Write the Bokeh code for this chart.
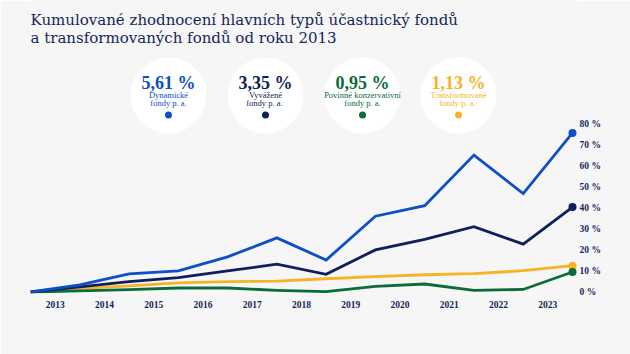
from bokeh.plotting import figure
from bokeh.models import Range1d, FixedTicker, PrintfTickFormatter, LinearAxis
from bokeh.core.properties import value
from bokeh.embed import file_html
from bokeh.resources import INLINE

# ---- data ----
years = ["2013", "2014", "2015", "2016", "2017", "2018", "2019", "2020", "2021", "2022", "2023"]
dynamic = [0, 3.4, 8.6, 10.0, 16.7, 25.7, 15.2, 36.0, 41.0, 65.0, 46.7, 75.5]
balanced = [0, 2.4, 4.9, 6.8, 10.0, 13.2, 8.4, 20.0, 25.0, 31.0, 22.7, 40.3]
transformed = [0, 1.6, 2.9, 4.3, 4.9, 5.2, 6.3, 7.3, 8.2, 8.7, 10.1, 12.5]
conservative = [0, 0.5, 1.1, 1.9, 1.9, 0.8, 0.2, 2.7, 3.8, 0.8, 1.2, 9.5]
y_ticks = [0, 10, 20, 30, 40, 50, 60, 70, 80]

rates = ["5,61 %", "3,35 %", "0,95 %", "1,13 %"]
rate_labels = [["Dynamické", "fondy p. a."], ["Vyvážené", "fondy  p. a."],
               ["Povinné konzervativní", "fondy p. a."], ["Transformované", "fondy  p. a."]]
colors = ["#0c4fc6", "#0e1f5b", "#0b6b3b", "#f6b325"]

BG = "#f6f6f6"
NAVY = "#14265c"
SERIF = "Liberation Serif"
TSERIF = "DejaVu Serif"

W, H = 630, 354
frame_left, frame_right, frame_top, frame_bottom = 30, 577, 0, 293
px_per_unit_y = (291.5 - 123.0) / 80.0
px_per_unit_x = (572 - 30) / 11.0

x_range = Range1d(0, (frame_right - frame_left) / px_per_unit_x)
y_range = Range1d(-(frame_bottom - 291.5) / px_per_unit_y, 291.5 / px_per_unit_y)

p = figure(width=W, height=H, x_range=x_range, y_range=y_range,
           output_backend="svg", toolbar_location=None,
           min_border_left=frame_left, min_border_right=W - frame_right,
           min_border_top=frame_top, min_border_bottom=H - frame_bottom,
           x_axis_location=None, y_axis_location=None)
p.background_fill_color = BG
p.border_fill_color = BG
p.outline_line_color = None
p.xgrid.visible = False
p.ygrid.visible = False

# pixel-like range for header decorations
p.extra_x_ranges = {"px": Range1d(frame_left, frame_right)}
p.extra_y_ranges = {"px": Range1d(frame_bottom, frame_top)}

# title
p.text(x=[30, 30], y=[19, 37], text=["Kumulované zhodnocení hlavních typů účastnický fondů",
                                      "a transformovaných fondů od roku 2013"],
       x_range_name="px", y_range_name="px",
       text_font=value(TSERIF), text_font_size="15px", text_color=NAVY,
       text_baseline="middle", text_align="left")

# circles
cx = [168, 265, 362, 458]
p.scatter(x=cx, y=[95] * 4, size=76, marker="circle", fill_color="#ffffff",
          line_color=None, x_range_name="px", y_range_name="px")
p.text(x=cx, y=[82] * 4, text=rates, x_range_name="px", y_range_name="px",
       text_font=value(SERIF), text_font_size="18px", text_font_style="bold",
       text_color=colors, text_align="center", text_baseline="middle")
p.text(x=cx, y=[94.5] * 4, text=[l[0] for l in rate_labels], x_range_name="px", y_range_name="px",
       text_font=value(SERIF), text_font_size="8.5px",
       text_color=colors, text_align="center", text_baseline="middle")
p.text(x=cx, y=[102.5] * 4, text=[l[1] for l in rate_labels], x_range_name="px", y_range_name="px",
       text_font=value(SERIF), text_font_size="8.5px",
       text_color=colors, text_align="center", text_baseline="middle")
p.scatter(x=cx, y=[114.5] * 4, size=7, marker="circle", fill_color=colors,
          line_color=None, x_range_name="px", y_range_name="px")

# lines
xs = list(range(len(dynamic)))
for s, c in zip([transformed, conservative, balanced, dynamic],
                [colors[3], colors[2], colors[1], colors[0]]):
    p.line(xs, s, line_color=c, line_width=2.8, line_join="miter")
    p.scatter([xs[-1]], [s[-1]], size=8, marker="circle", fill_color=c, line_color=None)

# x axis
xax = LinearAxis()
xax.ticker = FixedTicker(ticks=[i + 0.5 for i in range(len(years))])
xax.major_label_overrides = {i + 0.5: y for i, y in enumerate(years)}
p.add_layout(xax, "below")

# y axis
yax = LinearAxis()
yax.ticker = FixedTicker(ticks=y_ticks)
yax.formatter = PrintfTickFormatter(format="%d %%")
p.add_layout(yax, "right")

for ax in (xax, yax):
    ax.axis_line_color = None
    ax.major_tick_line_color = None
    ax.minor_tick_line_color = None
    ax.major_tick_in = 0
    ax.major_tick_out = 0
    ax.minor_tick_in = 0
    ax.minor_tick_out = 0
    ax.major_label_text_font = SERIF
    ax.major_label_text_font_size = "9.5px"
    ax.major_label_text_font_style = "bold"
    ax.major_label_text_color = NAVY
xax.major_label_standoff = 7
yax.major_label_standoff = 2

open("out.html", "w").write(file_html(p, INLINE))
